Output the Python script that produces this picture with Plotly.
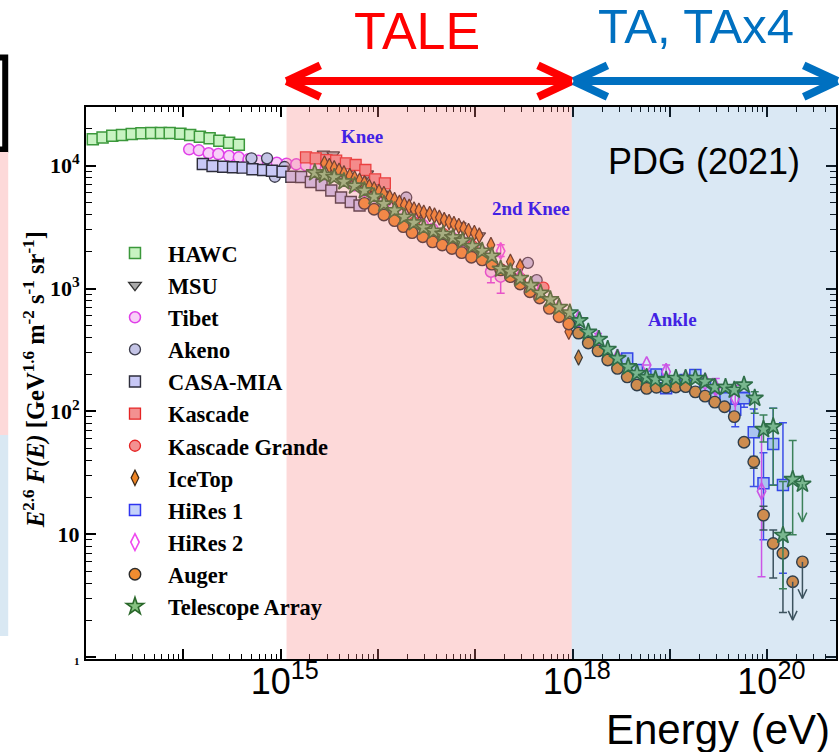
import plotly.graph_objects as go

# Cosmic-ray all-particle spectrum, E^2.6 F(E) [GeV^1.6 m^-2 s^-1 sr^-1] versus log10(E / eV)

hawc_logE = [13.07, 13.17, 13.27, 13.37, 13.47, 13.57, 13.67, 13.77, 13.86, 13.97, 14.07, 14.17, 14.27, 14.37, 14.47, 14.57]
hawc_flux = [16400, 17000, 17500, 17800, 18100, 18400, 18500, 18500, 18500, 18200, 17800, 17200, 16700, 16000, 15400, 14800]

msu_logE = [15.44, 15.54, 15.64, 15.74, 15.89, 16.04, 16.24, 16.44, 16.64, 16.84, 17.04]
msu_flux = [12500, 12300, 10800, 10000, 8600, 5900, 4800, 4100, 3700, 3250, 2700]

tibet_logE = [14.06, 14.16, 14.26, 14.36, 14.47, 14.57, 14.67, 14.77, 14.87, 14.96, 15.06, 15.16,
              15.26, 15.36, 15.46, 15.56, 15.66, 15.76, 15.86, 15.96, 16.06, 16.16, 16.26, 16.36,
              16.46, 16.56, 16.66, 16.76, 16.86, 16.96, 17.06, 17.16, 17.26]
tibet_flux = [13600, 13340, 12630, 12450, 11990, 11700, 11270, 10990, 10720, 10570, 10380, 10260,
              10050, 9700, 9200, 8500, 7700, 6900, 6250, 5650, 5100, 4550, 4050, 3650,
              3300, 3050, 2800, 2600, 2420, 2230, 2000, 1370, 1250]
tibet_err_up = [None] * 31 + [250, 300]
tibet_err_dn = [None] * 31 + [256, 336]

akeno_logE = [14.70, 14.86, 14.94, 15.04, 16.29, 16.54, 16.84, 17.04, 17.54, 17.63]
akeno_flux = [11490, 11490, 8130, 9760, 5510, 2950, 2450, 2050, 1620, 1170]

casa_logE = [14.20, 14.30, 14.41, 14.51, 14.61, 14.71, 14.82, 14.91, 15.02, 15.11, 15.21, 15.31,
             15.42, 15.52, 15.62, 15.72, 15.81]
casa_flux = [10320, 9950, 9820, 9710, 9640, 9350, 9230, 9110, 8930, 8130, 8090, 7360,
             6960, 6280, 5510, 5060, 4740]

kascade_logE = [15.26, 15.36, 15.47, 15.57, 15.67, 15.77, 15.87, 15.97, 16.07]
kascade_flux = [11700, 11490, 11120, 10990, 10460, 10130, 9230, 7740, 7190]

kgrande_logE = [16.37, 16.67, 16.97, 17.26, 17.46, 17.70]
kgrande_flux = [3440, 2780, 2210, 1440, 1210, 1018]

icetop_logE = [15.45, 15.50, 15.55, 15.60, 15.65, 15.71, 15.76, 15.81, 15.86, 15.91,
               15.96, 16.01, 16.06, 16.12, 16.17, 16.22, 16.27, 16.32, 16.37, 16.42,
               16.47, 16.53, 16.58, 16.63, 16.68, 16.73, 16.78, 16.83, 16.88, 16.93,
               16.99, 17.04, 17.16, 17.36, 17.46, 17.96, 18.06]
icetop_flux = [10450, 9950, 9530, 9110, 8670, 8240, 7890, 7540, 7190, 6750,
               6430, 6140, 5890, 5530, 5260, 5000, 4790, 4640, 4410, 4300,
               4140, 4040, 3930, 3780, 3610, 3480, 3350, 3230, 3080, 2940,
               2830, 2700, 2260, 1650, 1510, 445, 275]

hires1_logE = [18.56, 18.66, 18.76, 18.86, 18.96, 19.06, 19.16, 19.26, 19.36, 19.46,
               19.57, 19.67, 19.76, 19.86, 19.96, 20.06, 20.16]
hires1_flux = [270, 217, 192, 200, 154, 167, 180, 198, 158, 128,
               128, 103, 128, 67.5, 26, 54.2, 25.1]
hires1_err_up = [None] * 9 + [8, 10, 10, 15, 37, 20, 52, 55.7]
hires1_err_dn = [None] * 9 + [8, 10, 28, 20, 43, 17, 29, 20.3]

hires2_logE = [17.26, 17.46, 17.66, 17.86, 18.06, 18.26, 18.46, 18.76, 18.96, 19.16, 19.36, 19.47, 19.67, 19.94]
hires2_flux = [2020, 1250, 930, 700, 560, 390, 275, 238, 210, 185, 175, 155, 128, 22.4]
hires2_err_up = [250, None, None, None, None, 40, None, None, 28, None, None, 30, 35, 52.6]
hires2_err_dn = [200, None, None, None, None, 40, None, None, 28, None, None, 30, 35, 17.9]

auger_logE = [15.86, 15.96, 16.06, 16.17, 16.26, 16.35, 16.46, 16.56, 16.66, 16.76,
              16.86, 16.96, 17.07, 17.17, 17.26, 17.36, 17.46, 17.56, 17.66, 17.76,
              17.86, 17.96, 18.06, 18.16, 18.26, 18.36, 18.46, 18.56, 18.66, 18.76,
              18.86, 18.96, 19.06, 19.16, 19.26, 19.36, 19.46, 19.56, 19.66, 19.76,
              19.86, 19.96, 20.06, 20.16, 20.26, 20.36]
auger_flux = [4940, 4420, 3970, 3570, 3190, 2850, 2640, 2400, 2260, 2120,
              1960, 1800, 1710, 1580, 1420, 1250, 1090, 942, 837, 690,
              589, 514, 434, 360, 311, 262, 224, 191, 164, 154,
              157, 157, 158, 159, 144, 133, 119, 109, 90.7, 56,
              38.9, 14.3, 8.4, 7.0, 4.1, 5.95]
auger_err_up = [None] * 40 + [4.0, 2.6, 2.4, 2.7, None, None]
auger_err_dn = [None] * 40 + [4.4, 3.5, 4.0, 4.7, None, None]
auger_limit_to = [None] * 44 + [2.0, 3.0]

ta_logE = [15.35, 15.45, 15.55, 15.65, 15.76, 15.86, 15.96, 16.06, 16.17, 16.27,
           16.37, 16.47, 16.57, 16.67, 16.77, 16.87, 16.97, 17.07, 17.17, 17.26,
           17.36, 17.46, 17.57, 17.67, 17.77, 17.86, 17.97, 18.07, 18.16, 18.27,
           18.36, 18.46, 18.57, 18.66, 18.76, 18.85, 18.96, 19.06, 19.16, 19.26,
           19.36, 19.46, 19.57, 19.66, 19.76, 19.87, 19.96, 20.06, 20.16, 20.26, 20.36]
ta_flux = [8770, 8400, 8050, 7410, 6840, 6260, 5590, 4880, 4320, 3820,
           3440, 3140, 2940, 2780, 2600, 2440, 2210, 2020, 1840, 1440,
           1370, 1210, 1060, 919, 813, 703, 635, 547, 441, 386,
           320, 270, 231, 204, 189, 182, 180, 186, 186, 186,
           174, 157, 157, 149, 164, 128, 71.3, 75, 9.8, 27.9, 25.6]
ta_err_up = [None] * 45 + [16.5, 22, 31, 17, 30, None]
ta_err_dn = [None] * 45 + [31.6, 15, 50, 6.2, 18, None]
ta_limit_to = [None] * 50 + [12.6]

# Energy reach of the two detector configurations, log10(E / eV)
tale_range = [15.06, 17.99]
ta_range = [18.01, 20.72]

# Tick labels
x_decades = list(range(13, 21))
x_labels = {15: "10<sup>15</sup>", 18: "10<sup>18</sup>", 20: "10<sup>20</sup>"}
y_decades = [0, 1, 2, 3, 4]
y_labels = ["<span style='font-size:11px'>1</span>", "10", "10<sup>2</sup>", "10<sup>3</sup>", "10<sup>4</sup>"]

X_RANGE = [13.0, 20.705]
Y_RANGE = [-0.016, 4.478]

SERIF = "Liberation Serif, Times New Roman, serif"
SANS = "Liberation Sans, Arial, sans-serif"


def energies(logs):
    return [10.0 ** v for v in logs]


def xpaper(logE):
    return (logE - X_RANGE[0]) / (X_RANGE[1] - X_RANGE[0])


series = [
    ("HAWC", hawc_logE, hawc_flux,
     dict(symbol="square", size=11, color="#c8f3c2", line=dict(color="#3b983b", width=1.5)), None),
    ("MSU", msu_logE, msu_flux,
     dict(symbol="triangle-down", size=11, color="#a9a9a9", line=dict(color="#333333", width=1.3)), None),
    ("Tibet", tibet_logE, tibet_flux,
     dict(symbol="circle", size=11, color="#f8d0f8", line=dict(color="#e040e8", width=1.5)),
     (tibet_err_up, tibet_err_dn, "#e040e8")),
    ("Akeno", akeno_logE, akeno_flux,
     dict(symbol="circle", size=11, color="#c4c4e6", line=dict(color="#3c3c4c", width=1.3)), None),
    ("CASA-MIA", casa_logE, casa_flux,
     dict(symbol="square", size=11, color="#c8c8f6", line=dict(color="#2e2e3c", width=1.4)), None),
    ("Kascade", kascade_logE, kascade_flux,
     dict(symbol="square", size=11, color="#f39090", line=dict(color="#e52424", width=1.3)), None),
    ("Kascade Grande", kgrande_logE, kgrande_flux,
     dict(symbol="circle", size=11, color="#f39090", line=dict(color="#e52424", width=1.3)), None),
    ("IceTop", icetop_logE, icetop_flux,
     dict(symbol="diamond-tall", size=11, color="#ee8424", line=dict(color="#3a2614", width=1.2)), None),
    ("HiRes 1", hires1_logE, hires1_flux,
     dict(symbol="square", size=11, color="#c4d2fa", line=dict(color="#2f35f0", width=1.5)),
     (hires1_err_up, hires1_err_dn, "#3a40f0")),
    ("HiRes 2", hires2_logE, hires2_flux,
     dict(symbol="diamond-tall-open", size=12, color="#ee48ee", line=dict(width=1.6)),
     (hires2_err_up, hires2_err_dn, "#ee48ee")),
    ("Auger", auger_logE, auger_flux,
     dict(symbol="circle", size=11.5, color="#f08c30", line=dict(color="#2c2c2c", width=1.4)),
     (auger_err_up, auger_err_dn, "#3a4444")),
    ("Telescope Array", ta_logE, ta_flux,
     dict(symbol="star", size=13, color="#86c281", line=dict(color="#2a682a", width=1.6)),
     (ta_err_up, ta_err_dn, "#3a7f3f")),
]

fig = go.Figure()

for name, logE, flux, marker, err in series:
    tr = go.Scatter(x=energies(logE), y=flux, mode="markers", name=name, marker=marker)
    if err is not None:
        up, dn, col = err
        tr.error_y = dict(type="data", symmetric=False, array=up, arrayminus=dn,
                          color=col, thickness=1.5, width=4)
    fig.add_trace(tr)

# Upper limits: a vertical drop from the point with an open arrowhead
for logE, flux, limit, col in [(auger_logE, auger_flux, auger_limit_to, "#3a4444"),
                               (ta_logE, ta_flux, ta_limit_to, "#3a7f3f")]:
    for lx, f, tip in zip(logE, flux, limit):
        if tip is None:
            continue
        e = 10.0 ** lx
        fig.add_trace(go.Scatter(
            x=[e, e, None, e * 10 ** -0.045, e, e * 10 ** 0.045],
            y=[f, tip, None, tip * 10 ** 0.075, tip, tip * 10 ** 0.075],
            mode="lines", line=dict(color=col, width=1.5),
            showlegend=False, hoverinfo="skip"))

axis_common = dict(showline=True, linecolor="black", linewidth=2, mirror="ticks",
                   ticks="inside", tickcolor="black", tickwidth=1.5, ticklen=10,
                   showgrid=False, zeroline=False, type="log")

fig.update_xaxes(
    **axis_common,
    range=X_RANGE,
    tickmode="array",
    tickvals=[10.0 ** d for d in x_decades],
    ticktext=[x_labels.get(d, "") for d in x_decades],
    tickfont=dict(family=SANS, size=36, color="black"),
    ticklabelshift=4,
    ticklabelstandoff=-10,
    minor=dict(tickmode="array", ticks="inside", ticklen=5, tickwidth=1, tickcolor="black",
               tickvals=[k * 10.0 ** d for d in x_decades for k in range(2, 10)]),
)

fig.update_yaxes(
    **axis_common,
    range=Y_RANGE,
    tickmode="array",
    tickvals=[10.0 ** d for d in y_decades],
    ticktext=y_labels,
    tickfont=dict(family=SERIF, size=22, color="black", weight="bold"),
    minor=dict(tickmode="array", ticks="inside", ticklen=6, tickwidth=1, tickcolor="black",
               tickvals=[k * 10.0 ** d for d in y_decades for k in range(2, 10)]),
)

shapes = [
    # energy reach of the two detector configurations, tinted over the data
    dict(type="rect", xref="paper", yref="paper", x0=xpaper(tale_range[0]), x1=xpaper(tale_range[1]),
         y0=0, y1=1, fillcolor="rgba(250,128,128,0.30)", line=dict(width=0), layer="above"),
    dict(type="rect", xref="paper", yref="paper", x0=xpaper(tale_range[1]), x1=1,
         y0=0, y1=1, fillcolor="rgba(70,140,200,0.20)", line=dict(width=0), layer="above"),
    # slide-edge panels
    dict(type="rect", xref="paper", yref="paper", x0=-0.16, x1=-0.1077, y0=0.923, y1=1.0897,
         fillcolor="white", line=dict(color="black", width=6)),
    dict(type="rect", xref="paper", yref="paper", x0=-0.2, x1=-0.1037, y0=0.4058, y1=0.9185,
         fillcolor="#fdd9d9", line=dict(width=0)),
    dict(type="rect", xref="paper", yref="paper", x0=-0.2, x1=-0.1037, y0=0.0417, y1=0.4058,
         fillcolor="#d9e8f3", line=dict(width=0)),
]


def double_arrow(lo, hi, y, color, back=0.045, half=0.0285, width=8):
    x_left, x_right = xpaper(lo), xpaper(hi)
    out = [dict(type="line", xref="paper", yref="paper", x0=x_left, x1=x_right, y0=y, y1=y,
                line=dict(color=color, width=width))]
    for tip, sgn in [(x_left, 1), (x_right, -1)]:
        for dy in (half, -half):
            out.append(dict(type="line", xref="paper", yref="paper", x0=tip, y0=y,
                            x1=tip + sgn * back, y1=y + dy,
                            line=dict(color=color, width=width)))
    return out


shapes += double_arrow(tale_range[0], tale_range[1], 1.047, "#ff0000")
shapes += double_arrow(ta_range[0], ta_range[1], 1.047, "#0070c0")

ann_label = dict(font=dict(family=SERIF, size=19, color="#4222e4", weight="bold"), showarrow=False,
                 xref="x", yref="y")
paper_ann = dict(xref="paper", yref="paper", showarrow=False, xanchor="center", yanchor="middle")
annotations = [
    dict(text="Knee", x=15.833, y=4.236, **ann_label),
    dict(text="2nd Knee", x=17.567, y=3.653, **ann_label),
    dict(text="Ankle", x=19.025, y=2.752, **ann_label),
    dict(text="PDG (2021)", x=0.8245, y=0.9004, font=dict(family=SANS, size=36, color="black"), **paper_ann),
    dict(text="Energy (eV)", xref="paper", yref="paper", x=0.9947, y=-0.1286, xanchor="right",
         yanchor="middle", showarrow=False, font=dict(family=SANS, size=42, color="black")),
    dict(text="TALE", x=xpaper(16.4), y=1.138, font=dict(family=SANS, size=52, color="#ff0000"), **paper_ann),
    dict(text="TA, TAx4", x=0.813, y=1.146, font=dict(family=SANS, size=49, color="#0070c0"), **paper_ann),
    dict(text="<i>E</i><sup>2.6</sup> <i>F(E)</i> [GeV<sup>1.6</sup> m<sup>-2</sup> s<sup>-1</sup> sr<sup>-1</sup>]",
         x=-0.0691, y=0.5054, textangle=-90,
         font=dict(family=SERIF, size=24.5, color="black", weight="bold"), **paper_ann),
]

fig.update_layout(
    width=839, height=752,
    margin=dict(l=86, r=1, t=107, b=93),
    paper_bgcolor="white", plot_bgcolor="white",
    showlegend=True,
    legend=dict(x=0.0213, y=0.7736, xanchor="left", yanchor="top",
                bgcolor="rgba(0,0,0,0)", borderwidth=0, itemwidth=56, tracegroupgap=0,
                font=dict(family=SERIF, size=22.4, color="black", weight="bold")),
    shapes=shapes,
    annotations=annotations,
)

fig.write_html("out.html")
